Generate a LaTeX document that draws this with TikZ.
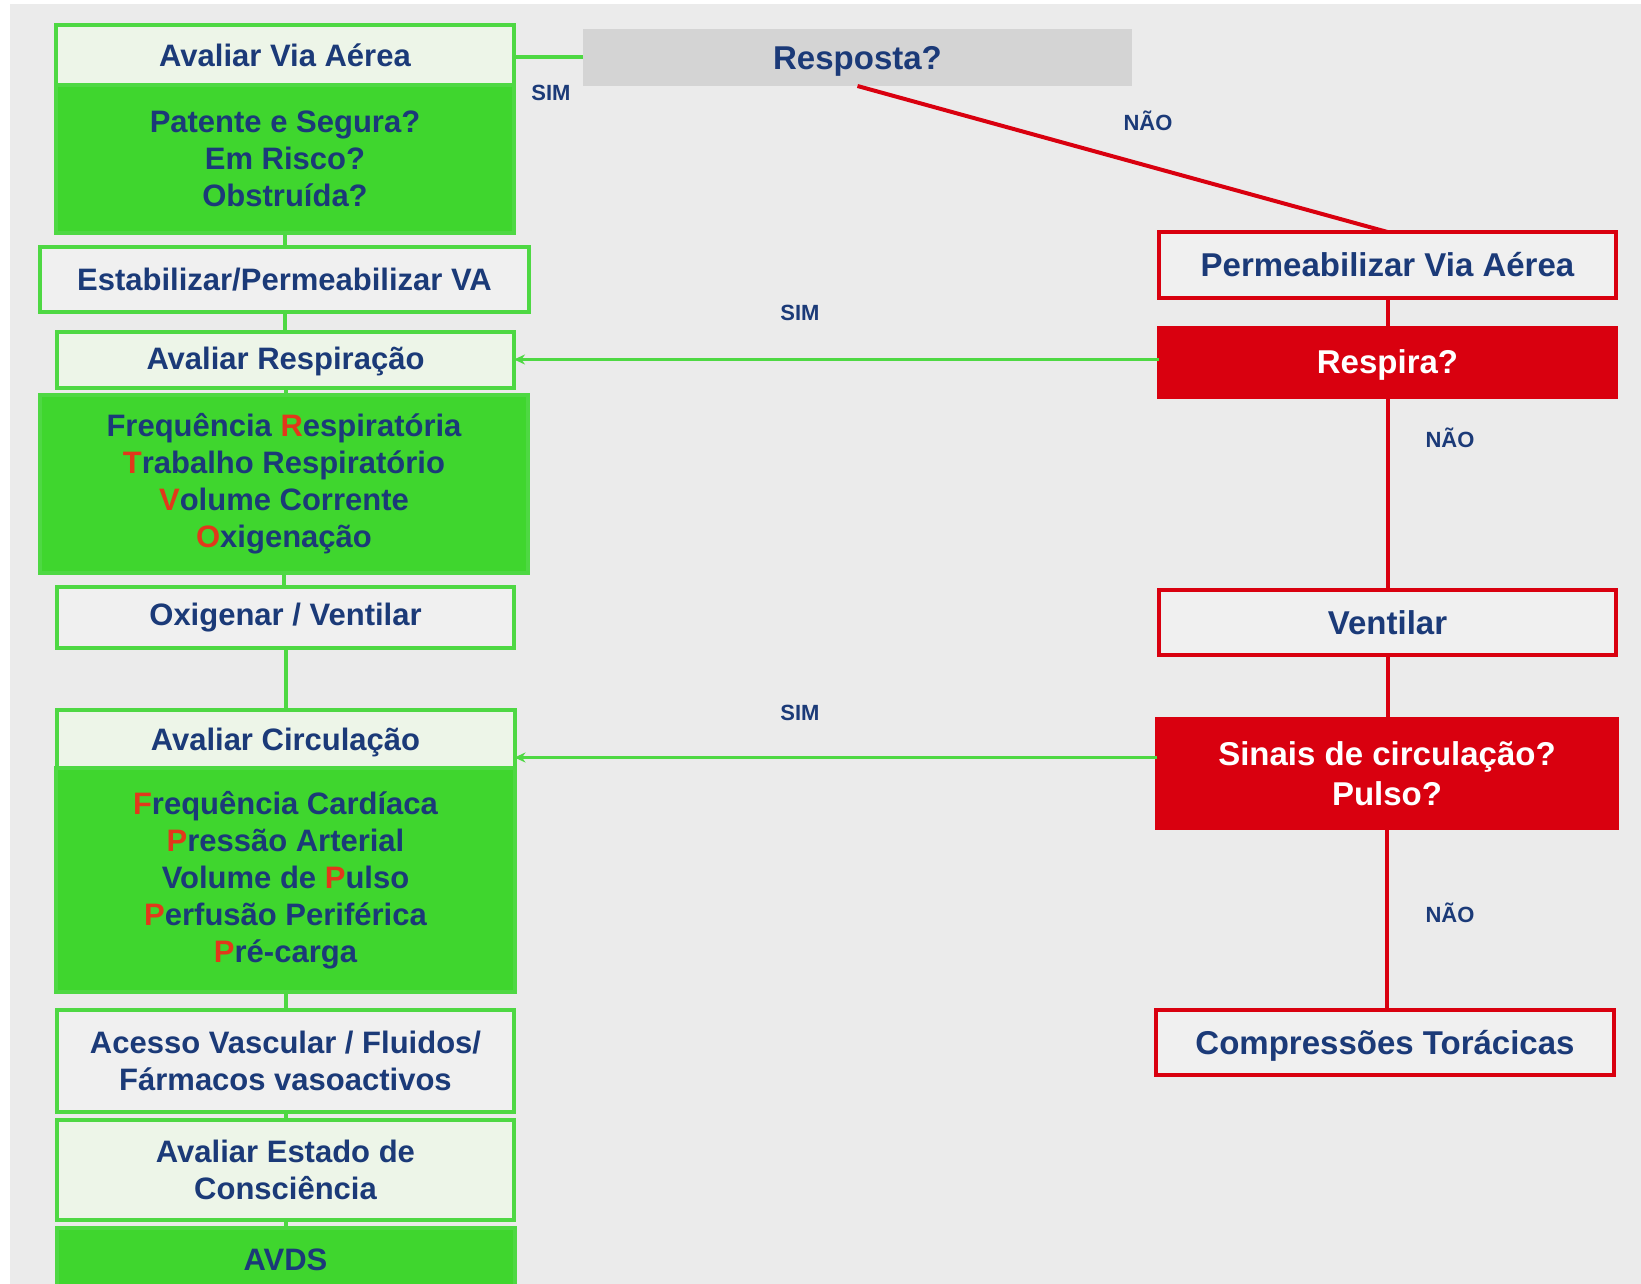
\documentclass[tikz,border=0pt]{standalone}
\usepackage{fontspec}
\setmainfont{Liberation Sans}
\usetikzlibrary{arrows.meta}
\definecolor{bggray}{HTML}{EBEBEB}
\definecolor{navy}{HTML}{1B3A78}
\definecolor{gfill}{HTML}{3FD62E}
\definecolor{gline}{HTML}{4ED843}
\definecolor{paleg}{HTML}{EDF5E8}
\definecolor{boxg}{HTML}{F0F0F0}
\definecolor{redc}{HTML}{D9000F}
\definecolor{initc}{HTML}{E2381B}
\definecolor{respg}{HTML}{D4D4D4}
\newcommand{\ini}[1]{\textcolor{initc}{#1}}
\begin{document}
\begin{tikzpicture}[x=1pt,y=-1pt,
  base/.style={inner sep=0pt, outer sep=0pt, align=center, text=navy, line width=4pt},
  lfont/.style={font=\fontsize{31}{37}\selectfont\bfseries},
  rfont/.style={font=\fontsize{33}{40}\selectfont\bfseries},
  lower/.style={text height=#1, text depth=7pt},
  ghead/.style={base, lfont, draw=gline, fill=paleg},
  gbody/.style={base, lfont, draw=gline, fill=gfill},
  gplain/.style={base, lfont, draw=gline, fill=boxg},
  rplain/.style={base, rfont, draw=redc, fill=boxg},
  rsolid/.style={base, rfont, draw=redc, fill=redc, text=white},
  tag/.style={font=\fontsize{22}{24}\selectfont\bfseries, text=navy, inner sep=0pt},
  glink/.style={draw=gline, line width=4pt},
  rlink/.style={draw=redc, line width=4pt},
  garrow/.style={draw=gline, line width=3pt, -{Stealth[length=11pt,width=10pt]}},
]
\useasboundingbox (0,0) rectangle (1641,1284);
\clip (0,0) rectangle (1641,1284);
\fill[white] (0,0) rectangle (1641,1284);
\fill[bggray] (10,4) rectangle (1641,1284);

% left column: assessment sequence
\node[ghead, minimum width=458pt, minimum height=60pt] (vaH) at (285,55) {Avaliar Via Aérea};
\node[gbody, minimum width=458pt, minimum height=148pt] (vaB) at (285,159) {Patente e Segura?\\Em Risco?\\Obstruída?};
\node[gplain, minimum width=489pt, minimum height=65pt] (est) at (284.5,279.5) {Estabilizar/Permeabilizar VA};
\node[ghead, lower=26pt, minimum width=457pt, minimum height=56pt] (reH) at (285.5,360) {Avaliar Respiração};
\node[gbody, minimum width=488pt, minimum height=178pt] (reB) at (284,484) {Frequência \ini{R}espiratória\\\ini{T}rabalho Respiratório\\\ini{V}olume Corrente\\\ini{O}xigenação};
\node[gplain, minimum width=457pt, minimum height=61pt] (oxv) at (285.5,617.5) {Oxigenar / Ventilar};
\node[ghead, lower=30pt, minimum width=458pt, minimum height=58pt] (ciH) at (285.5,739) {Avaliar Circulação};
\node[gbody, minimum width=459pt, minimum height=224pt] (ciB) at (285.5,880) {\ini{F}requência Cardíaca\\\ini{P}ressão Arterial\\Volume de \ini{P}ulso\\\ini{P}erfusão Periférica\\\ini{P}ré-carga};
\node[gplain, minimum width=457pt, minimum height=102pt] (ace) at (285.5,1061) {Acesso Vascular / Fluidos/\\Fármacos vasoactivos};
\node[ghead, minimum width=457pt, minimum height=100pt] (aec) at (285.5,1170) {Avaliar Estado de\\Consciência};
\node[gbody, minimum width=458pt, minimum height=64pt] (avds) at (285.5,1260) {AVDS};

% right column: decision path
\node[base, rfont, lower=32pt, fill=respg, minimum width=549pt, minimum height=57pt] (resp) at (857.5,57.5) {Resposta?};
\node[rplain, minimum width=457pt, minimum height=66pt] (perm) at (1387.5,265) {Permeabilizar Via Aérea};
\node[rsolid, lower=28pt, minimum width=457pt, minimum height=69pt] (rsp) at (1387.5,362.5) {Respira?};
\node[rplain, minimum width=457pt, minimum height=65pt] (vent) at (1387.5,622.5) {Ventilar};
\node[rsolid, minimum width=460pt, minimum height=109pt] (sin) at (1387,773.5) {Sinais de circulação?\\Pulso?};
\node[rplain, lower=30pt, minimum width=458pt, minimum height=65pt] (comp) at (1385,1042.5) {Compressões Torácicas};

% left column links
\draw[glink] (vaB.south) -- (vaB.south |- est.north);
\draw[glink] (est.south) -- (est.south |- reH.north);
\draw[glink] (reH.south) -- (reH.south |- reB.north);
\draw[glink] (reB.south) -- (reB.south |- oxv.north);
\draw[glink] (oxv.south) -- (oxv.south |- ciH.north);
\draw[glink] (ciB.south) -- (ciB.south |- ace.north);
\draw[glink] (ace.south) -- (ace.south |- aec.north);
\draw[glink] (aec.south) -- (aec.south |- avds.north);

% decision links
\draw[glink] (resp.west) -- (resp.west -| vaH.east);
\draw[rlink] (resp.south) -- (perm.north);
\draw[rlink] (perm.south) -- (rsp.north);
\draw[rlink] (rsp.south) -- (vent.north);
\draw[rlink] (vent.south) -- (vent.south |- sin.north);
\draw[rlink] (sin.south) -- (sin.south |- comp.north);
\coordinate (ra) at ([yshift=3pt]rsp.west);
\coordinate (sa) at ([yshift=16pt]sin.west);
\draw[garrow] (ra) -- (ra -| reH.east);
\draw[garrow] (sa) -- (sa -| ciH.east);

% branch labels
\node[tag] (l1) at (551,93) {SIM};
\node[tag] (l2) at (1148,121) {NÃO};
\node[tag] (l3) at (800,313) {SIM};
\node[tag] (l4) at (1450,438) {NÃO};
\node[tag] (l5) at (800,713) {SIM};
\node[tag] (l6) at (1450,913) {NÃO};
\end{tikzpicture}
\end{document}
